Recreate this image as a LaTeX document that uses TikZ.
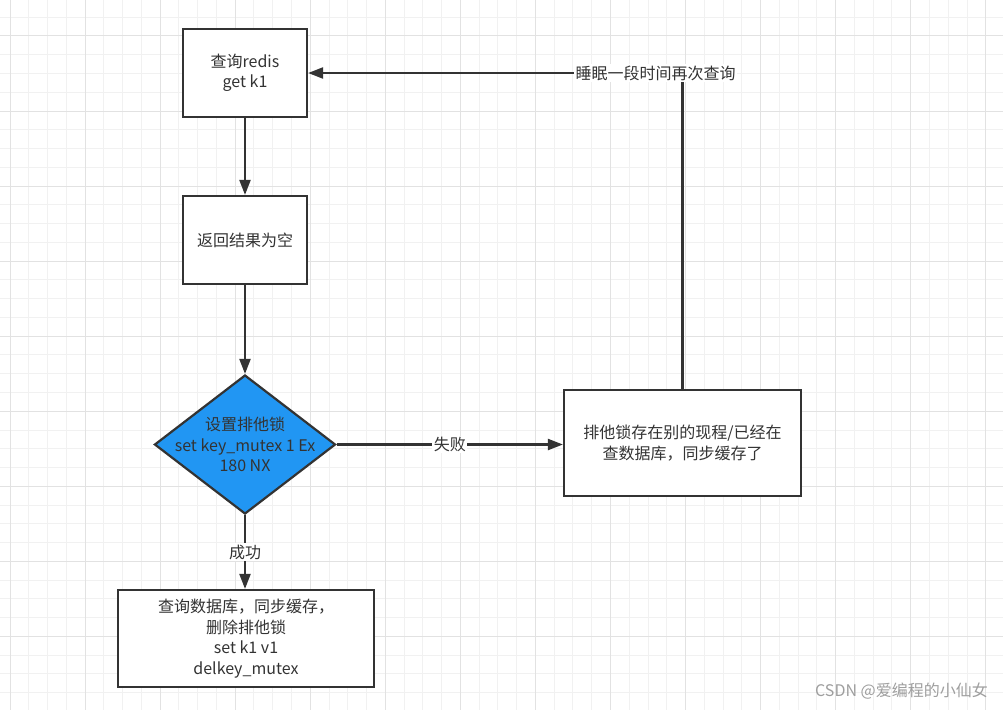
\documentclass[tikz,border=0pt]{standalone}
\usepackage{fontspec}
\setmainfont{Noto Sans CJK SC}
\usetikzlibrary{arrows.meta,shapes.geometric}
\definecolor{ink}{HTML}{333333}
\definecolor{gridminor}{HTML}{F1F1F1}
\definecolor{gridmajor}{HTML}{E2E2E2}
\definecolor{lockblue}{HTML}{2196F3}
\definecolor{markgray}{HTML}{9E9E9E}
\tikzset{
  textfont/.style={font=\fontsize{16}{20.5}\selectfont},
  stepbox/.style={draw=ink, line width=2.2pt, fill=white, text=ink, align=center,
    inner sep=0pt, textfont},
  decision/.style={diamond, draw=ink, line width=2.2pt, fill=lockblue, inner sep=0pt},
  flow/.style={draw=ink, line width=2.2pt, -{Triangle[length=15pt,width=11pt]}},
  edgelabel/.style={fill=white, text=ink, inner sep=1.5pt, textfont},
  minorline/.style={draw=gridminor, line width=1pt},
  majorline/.style={draw=gridmajor, line width=1pt},
}
\begin{document}
\begin{tikzpicture}[x=1pt,y=-1pt]
  \useasboundingbox (0,0) rectangle (1003,710);
  \fill[white] (0,0) rectangle (1003,710);
  % background grid
  \foreach \i in {0,...,53} { \draw[minorline] ({10+18.765*\i},0) -- ++(0,710); }
  \foreach \i in {0,...,37} { \draw[minorline] (0,{17.2+18.765*\i}) -- ++(1003,0); }
  \foreach \i in {0,4,...,52} { \draw[majorline] ({10+18.765*\i},0) -- ++(0,710); }
  \foreach \i in {1,5,...,37} { \draw[majorline] (0,{17.2+18.765*\i}) -- ++(1003,0); }

  % steps
  \node[stepbox, minimum width=124pt, minimum height=88pt] (query) at (245,73)
    {查询redis\\get k1};
  \node[stepbox, minimum width=124pt, minimum height=88pt] (empty) at (245,240)
    {返回结果为空};
  \node[decision, minimum width=181pt, minimum height=139pt] (lock) at (245,444.5) {};
  \node[text=ink, align=center, inner sep=0pt, textfont] (locktext) at (lock.center)
    {设置排他锁\\set key\_mutex 1 Ex\\180 NX};
  \node[stepbox, minimum width=237pt, minimum height=106pt] (busy) at (682.5,443)
    {排他锁存在别的现程/已经在\\查数据库，同步缓存了};
  \node[stepbox, minimum width=256pt, minimum height=97pt] (load) at (246,638.5)
    {查询数据库，同步缓存，\\删除排他锁\\set k1 v1\\delkey\_mutex};

  % connectors
  \draw[flow] (query.south) -- (empty.north);
  \draw[flow] (empty.south) -- (lock.north);
  \draw[flow] (lock.east) -- node[edgelabel] {失败} (lock.east -| busy.west);
  \draw[flow] (lock.south) -- node[edgelabel] {成功} (lock.south |- load.north);
  \draw[flow] (busy.north) |- node[edgelabel, pos=0.536] {睡眠一段时间再次查询} (query.east);

  % signature
  \node[text=markgray, font=\fontsize{16}{19}\selectfont, anchor=east, inner sep=0pt]
    (sig) at (988,691) {CSDN @爱编程的小仙女};
\end{tikzpicture}
\end{document}
